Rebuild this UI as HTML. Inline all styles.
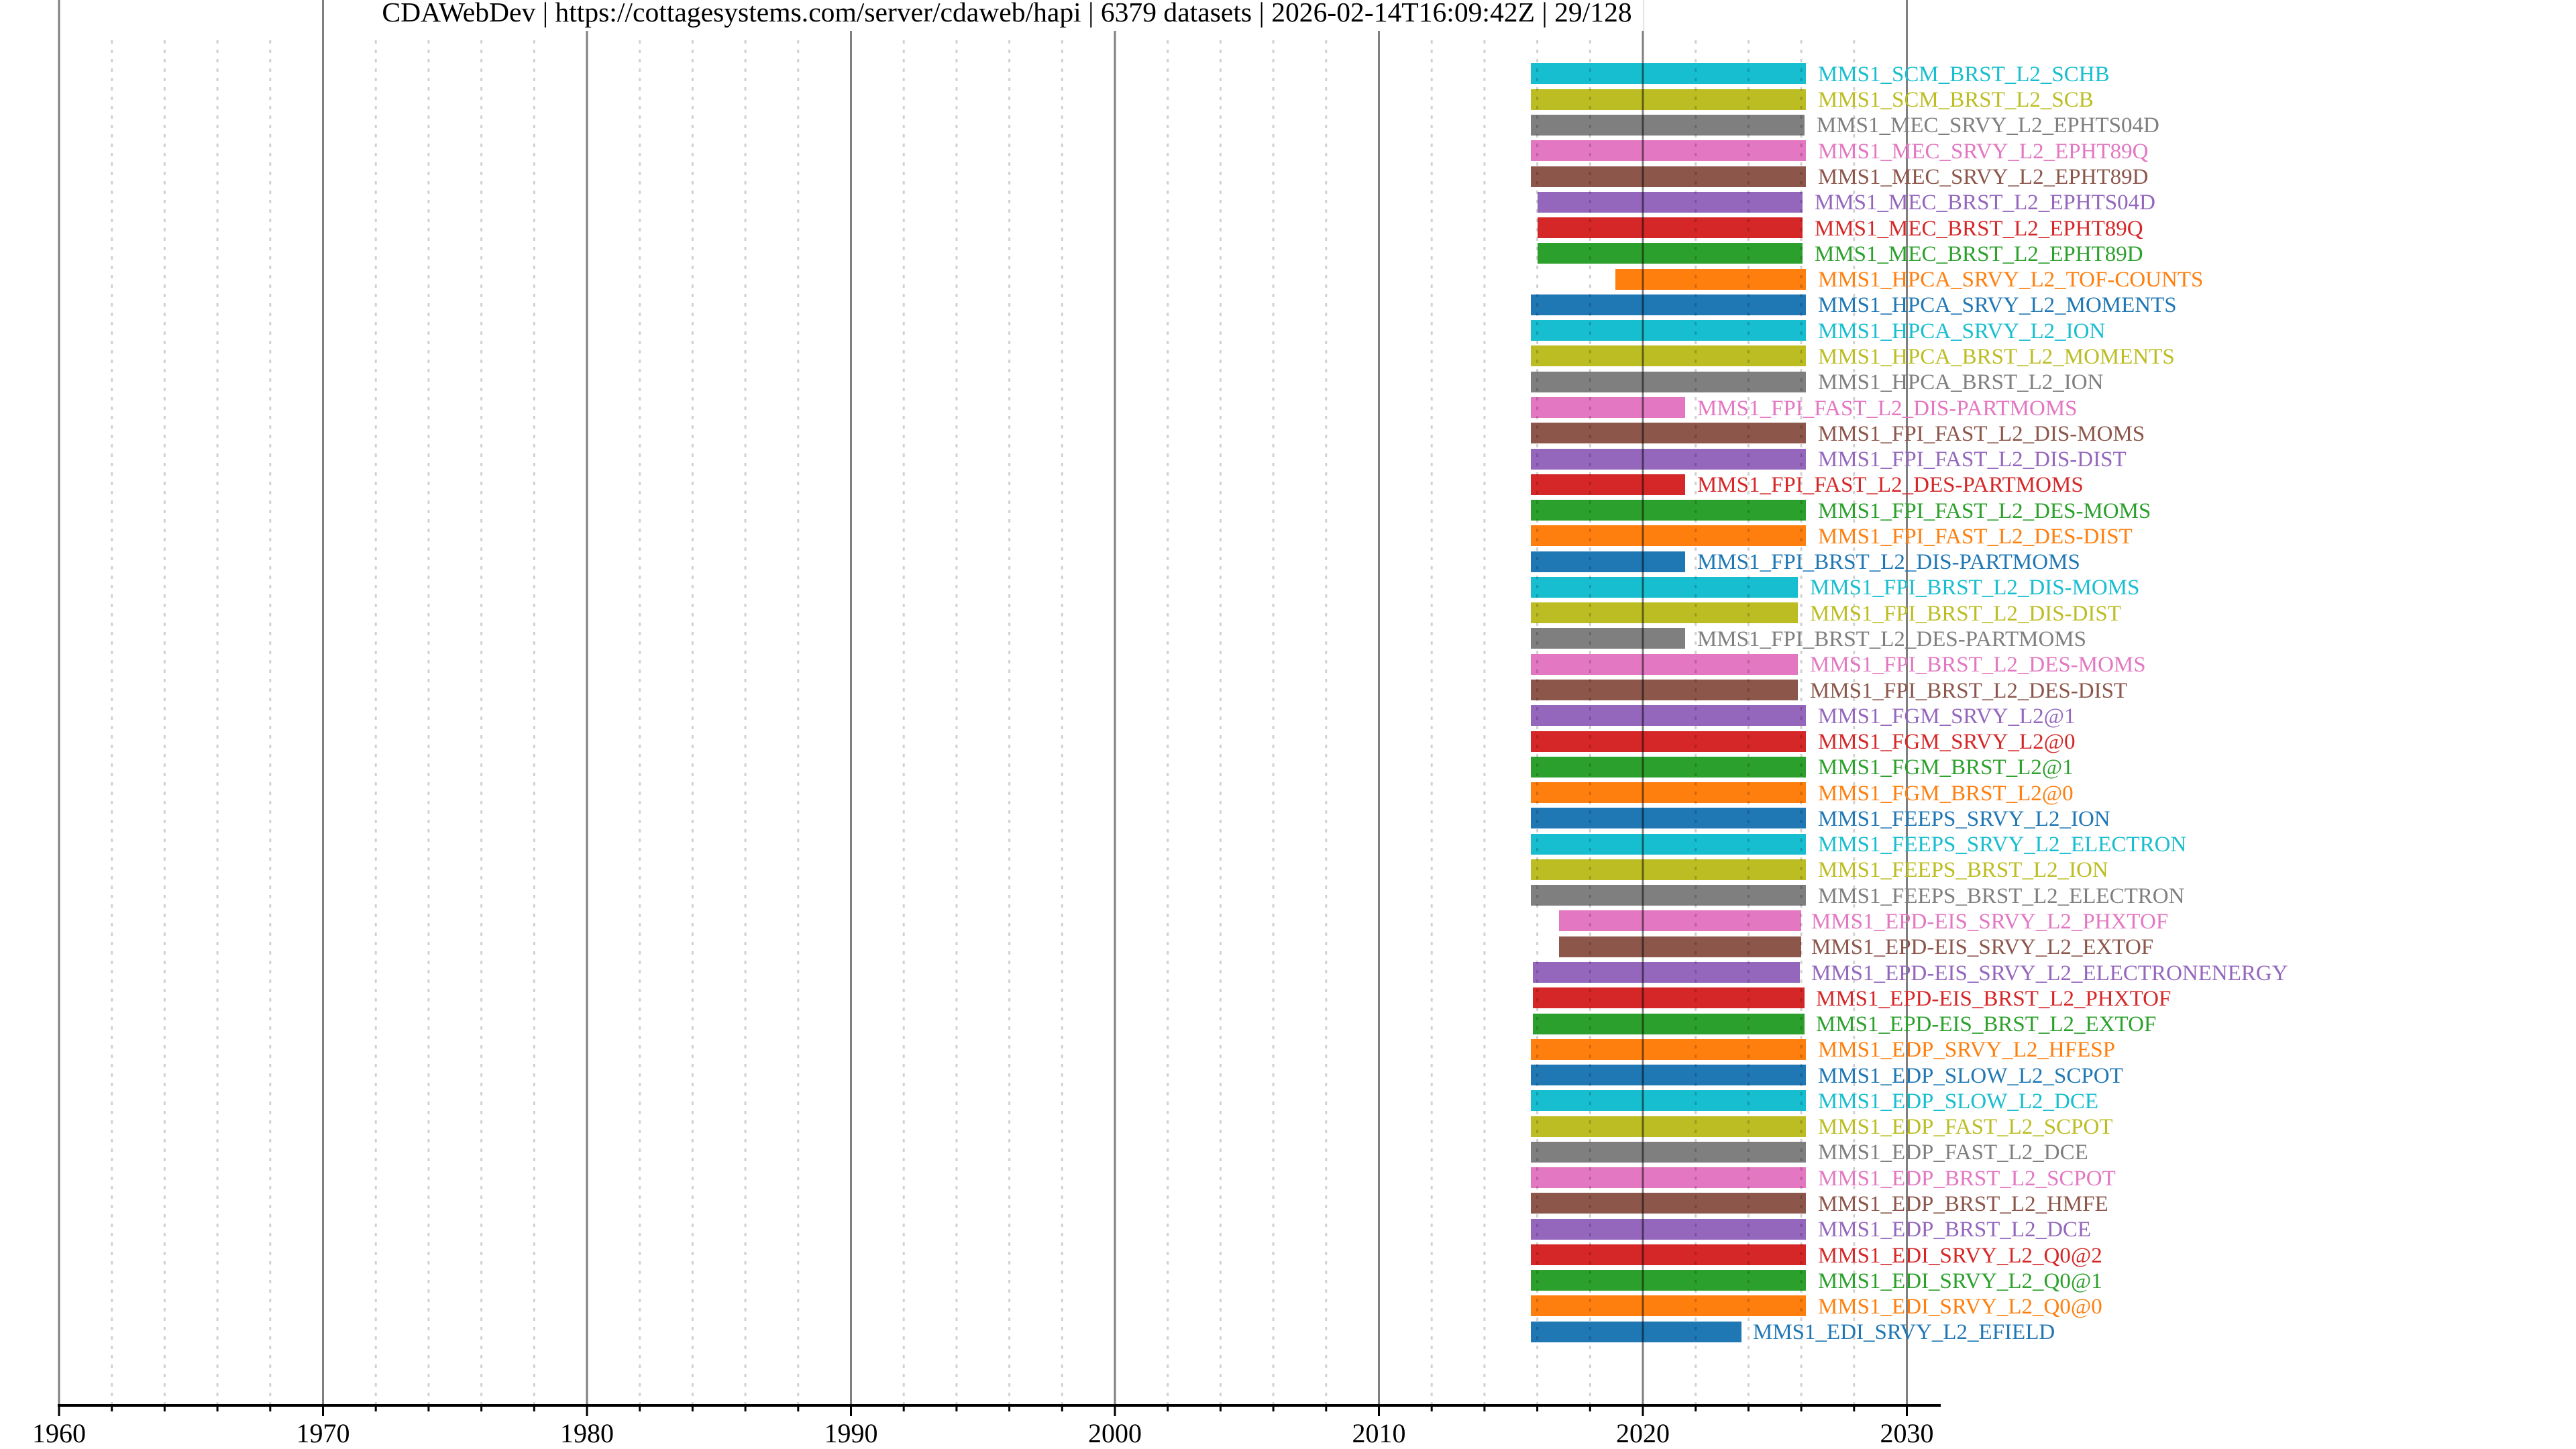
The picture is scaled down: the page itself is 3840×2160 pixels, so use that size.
<!DOCTYPE html>
<html><head><meta charset="utf-8"><style>html,body{margin:0;padding:0;background:#fff}svg{display:block}</style></head><body>
<svg xmlns="http://www.w3.org/2000/svg" width="3840" height="2160" viewBox="0 0 3840 2160" font-family="Liberation Serif, serif">
<rect width="3840" height="2160" fill="#fff"/>
<g stroke-width="0">
<rect x="2282" y="94" width="410" height="31" fill="#17becf"/>
<rect x="2282" y="133" width="410" height="31" fill="#bcbd22"/>
<rect x="2282" y="171" width="408" height="31" fill="#7f7f7f"/>
<rect x="2282" y="209" width="410" height="31" fill="#e377c2"/>
<rect x="2282" y="248" width="410" height="31" fill="#8c564b"/>
<rect x="2292" y="286" width="395" height="31" fill="#9467bd"/>
<rect x="2292" y="324" width="395" height="31" fill="#d62728"/>
<rect x="2292" y="362" width="395" height="31" fill="#2ca02c"/>
<rect x="2408" y="401" width="284" height="31" fill="#ff7f0e"/>
<rect x="2282" y="439" width="410" height="31" fill="#1f77b4"/>
<rect x="2282" y="477" width="410" height="31" fill="#17becf"/>
<rect x="2282" y="515" width="410" height="31" fill="#bcbd22"/>
<rect x="2282" y="554" width="410" height="31" fill="#7f7f7f"/>
<rect x="2282" y="592" width="230" height="31" fill="#e377c2"/>
<rect x="2282" y="630" width="410" height="31" fill="#8c564b"/>
<rect x="2282" y="669" width="410" height="31" fill="#9467bd"/>
<rect x="2282" y="707" width="230" height="31" fill="#d62728"/>
<rect x="2282" y="745" width="410" height="31" fill="#2ca02c"/>
<rect x="2282" y="783" width="410" height="31" fill="#ff7f0e"/>
<rect x="2282" y="822" width="230" height="31" fill="#1f77b4"/>
<rect x="2282" y="860" width="398" height="31" fill="#17becf"/>
<rect x="2282" y="898" width="398" height="31" fill="#bcbd22"/>
<rect x="2282" y="936" width="230" height="31" fill="#7f7f7f"/>
<rect x="2282" y="975" width="398" height="31" fill="#e377c2"/>
<rect x="2282" y="1013" width="398" height="31" fill="#8c564b"/>
<rect x="2282" y="1051" width="410" height="31" fill="#9467bd"/>
<rect x="2282" y="1090" width="410" height="31" fill="#d62728"/>
<rect x="2282" y="1128" width="410" height="31" fill="#2ca02c"/>
<rect x="2282" y="1166" width="410" height="31" fill="#ff7f0e"/>
<rect x="2282" y="1204" width="410" height="31" fill="#1f77b4"/>
<rect x="2282" y="1243" width="410" height="31" fill="#17becf"/>
<rect x="2282" y="1281" width="410" height="31" fill="#bcbd22"/>
<rect x="2282" y="1319" width="410" height="31" fill="#7f7f7f"/>
<rect x="2324" y="1357" width="361" height="31" fill="#e377c2"/>
<rect x="2324" y="1396" width="361" height="31" fill="#8c564b"/>
<rect x="2285" y="1434" width="398" height="31" fill="#9467bd"/>
<rect x="2285" y="1472" width="405" height="31" fill="#d62728"/>
<rect x="2285" y="1511" width="405" height="31" fill="#2ca02c"/>
<rect x="2282" y="1549" width="410" height="31" fill="#ff7f0e"/>
<rect x="2282" y="1587" width="410" height="31" fill="#1f77b4"/>
<rect x="2282" y="1625" width="410" height="31" fill="#17becf"/>
<rect x="2282" y="1664" width="410" height="31" fill="#bcbd22"/>
<rect x="2282" y="1702" width="410" height="31" fill="#7f7f7f"/>
<rect x="2282" y="1740" width="410" height="31" fill="#e377c2"/>
<rect x="2282" y="1778" width="410" height="31" fill="#8c564b"/>
<rect x="2282" y="1817" width="410" height="31" fill="#9467bd"/>
<rect x="2282" y="1855" width="410" height="31" fill="#d62728"/>
<rect x="2282" y="1893" width="410" height="31" fill="#2ca02c"/>
<rect x="2282" y="1931" width="410" height="31" fill="#ff7f0e"/>
<rect x="2282" y="1970" width="314" height="31" fill="#1f77b4"/>
</g>
<g stroke="#000" stroke-opacity="0.18" stroke-width="3" stroke-dasharray="5,9">
<line x1="166.7" y1="60" x2="166.7" y2="2095"/><line x1="245.4" y1="60" x2="245.4" y2="2095"/><line x1="324.1" y1="60" x2="324.1" y2="2095"/><line x1="402.8" y1="60" x2="402.8" y2="2095"/>
<line x1="560.2" y1="60" x2="560.2" y2="2095"/><line x1="638.9" y1="60" x2="638.9" y2="2095"/><line x1="717.6" y1="60" x2="717.6" y2="2095"/><line x1="796.3" y1="60" x2="796.3" y2="2095"/>
<line x1="953.7" y1="60" x2="953.7" y2="2095"/><line x1="1032.4" y1="60" x2="1032.4" y2="2095"/><line x1="1111.1" y1="60" x2="1111.1" y2="2095"/><line x1="1189.8" y1="60" x2="1189.8" y2="2095"/>
<line x1="1347.2" y1="60" x2="1347.2" y2="2095"/><line x1="1425.9" y1="60" x2="1425.9" y2="2095"/><line x1="1504.6" y1="60" x2="1504.6" y2="2095"/><line x1="1583.3" y1="60" x2="1583.3" y2="2095"/>
<line x1="1740.7" y1="60" x2="1740.7" y2="2095"/><line x1="1819.4" y1="60" x2="1819.4" y2="2095"/><line x1="1898.1" y1="60" x2="1898.1" y2="2095"/><line x1="1976.8" y1="60" x2="1976.8" y2="2095"/>
<line x1="2134.2" y1="60" x2="2134.2" y2="2095"/><line x1="2212.9" y1="60" x2="2212.9" y2="2095"/><line x1="2291.6" y1="60" x2="2291.6" y2="2095"/><line x1="2370.3" y1="60" x2="2370.3" y2="2095"/>
<line x1="2527.7" y1="60" x2="2527.7" y2="2095"/><line x1="2606.4" y1="60" x2="2606.4" y2="2095"/><line x1="2685.1" y1="60" x2="2685.1" y2="2095"/><line x1="2763.8" y1="60" x2="2763.8" y2="2095"/>
</g>
<g stroke="#000" stroke-opacity="0.5" stroke-width="3">
<line x1="88" y1="0" x2="88" y2="2095"/><line x1="481.5" y1="0" x2="481.5" y2="2095"/><line x1="875" y1="0" x2="875" y2="2095"/><line x1="1268.5" y1="0" x2="1268.5" y2="2095"/><line x1="1662" y1="0" x2="1662" y2="2095"/><line x1="2055.5" y1="0" x2="2055.5" y2="2095"/><line x1="2449" y1="0" x2="2449" y2="2095"/><line x1="2842.5" y1="0" x2="2842.5" y2="2095"/>
</g>
<rect x="550" y="0" width="1900" height="46" fill="#fff"/>
<text x="1501" y="32" font-size="41.6" text-anchor="middle" fill="#000">CDAWebDev | https://cottagesystems.com/server/cdaweb/hapi | 6379 datasets | 2026-02-14T16:09:42Z | 29/128</text>
<g font-size="33">
<text x="2710" y="121" fill="#17becf">MMS1_SCM_BRST_L2_SCHB</text>
<text x="2710" y="159" fill="#bcbd22">MMS1_SCM_BRST_L2_SCB</text>
<text x="2708" y="197" fill="#7f7f7f">MMS1_MEC_SRVY_L2_EPHTS04D</text>
<text x="2710" y="236" fill="#e377c2">MMS1_MEC_SRVY_L2_EPHT89Q</text>
<text x="2710" y="274" fill="#8c564b">MMS1_MEC_SRVY_L2_EPHT89D</text>
<text x="2705" y="312" fill="#9467bd">MMS1_MEC_BRST_L2_EPHTS04D</text>
<text x="2705" y="351" fill="#d62728">MMS1_MEC_BRST_L2_EPHT89Q</text>
<text x="2705" y="389" fill="#2ca02c">MMS1_MEC_BRST_L2_EPHT89D</text>
<text x="2710" y="427" fill="#ff7f0e">MMS1_HPCA_SRVY_L2_TOF-COUNTS</text>
<text x="2710" y="465" fill="#1f77b4">MMS1_HPCA_SRVY_L2_MOMENTS</text>
<text x="2710" y="504" fill="#17becf">MMS1_HPCA_SRVY_L2_ION</text>
<text x="2710" y="542" fill="#bcbd22">MMS1_HPCA_BRST_L2_MOMENTS</text>
<text x="2710" y="580" fill="#7f7f7f">MMS1_HPCA_BRST_L2_ION</text>
<text x="2530" y="619" fill="#e377c2">MMS1_FPI_FAST_L2_DIS-PARTMOMS</text>
<text x="2710" y="657" fill="#8c564b">MMS1_FPI_FAST_L2_DIS-MOMS</text>
<text x="2710" y="695" fill="#9467bd">MMS1_FPI_FAST_L2_DIS-DIST</text>
<text x="2530" y="733" fill="#d62728">MMS1_FPI_FAST_L2_DES-PARTMOMS</text>
<text x="2710" y="772" fill="#2ca02c">MMS1_FPI_FAST_L2_DES-MOMS</text>
<text x="2710" y="810" fill="#ff7f0e">MMS1_FPI_FAST_L2_DES-DIST</text>
<text x="2530" y="848" fill="#1f77b4">MMS1_FPI_BRST_L2_DIS-PARTMOMS</text>
<text x="2698" y="886" fill="#17becf">MMS1_FPI_BRST_L2_DIS-MOMS</text>
<text x="2698" y="925" fill="#bcbd22">MMS1_FPI_BRST_L2_DIS-DIST</text>
<text x="2530" y="963" fill="#7f7f7f">MMS1_FPI_BRST_L2_DES-PARTMOMS</text>
<text x="2698" y="1001" fill="#e377c2">MMS1_FPI_BRST_L2_DES-MOMS</text>
<text x="2698" y="1040" fill="#8c564b">MMS1_FPI_BRST_L2_DES-DIST</text>
<text x="2710" y="1078" fill="#9467bd">MMS1_FGM_SRVY_L2@1</text>
<text x="2710" y="1116" fill="#d62728">MMS1_FGM_SRVY_L2@0</text>
<text x="2710" y="1154" fill="#2ca02c">MMS1_FGM_BRST_L2@1</text>
<text x="2710" y="1193" fill="#ff7f0e">MMS1_FGM_BRST_L2@0</text>
<text x="2710" y="1231" fill="#1f77b4">MMS1_FEEPS_SRVY_L2_ION</text>
<text x="2710" y="1269" fill="#17becf">MMS1_FEEPS_SRVY_L2_ELECTRON</text>
<text x="2710" y="1307" fill="#bcbd22">MMS1_FEEPS_BRST_L2_ION</text>
<text x="2710" y="1346" fill="#7f7f7f">MMS1_FEEPS_BRST_L2_ELECTRON</text>
<text x="2700" y="1384" fill="#e377c2">MMS1_EPD-EIS_SRVY_L2_PHXTOF</text>
<text x="2700" y="1422" fill="#8c564b">MMS1_EPD-EIS_SRVY_L2_EXTOF</text>
<text x="2700" y="1461" fill="#9467bd">MMS1_EPD-EIS_SRVY_L2_ELECTRONENERGY</text>
<text x="2707" y="1499" fill="#d62728">MMS1_EPD-EIS_BRST_L2_PHXTOF</text>
<text x="2707" y="1537" fill="#2ca02c">MMS1_EPD-EIS_BRST_L2_EXTOF</text>
<text x="2710" y="1575" fill="#ff7f0e">MMS1_EDP_SRVY_L2_HFESP</text>
<text x="2710" y="1614" fill="#1f77b4">MMS1_EDP_SLOW_L2_SCPOT</text>
<text x="2710" y="1652" fill="#17becf">MMS1_EDP_SLOW_L2_DCE</text>
<text x="2710" y="1690" fill="#bcbd22">MMS1_EDP_FAST_L2_SCPOT</text>
<text x="2710" y="1728" fill="#7f7f7f">MMS1_EDP_FAST_L2_DCE</text>
<text x="2710" y="1767" fill="#e377c2">MMS1_EDP_BRST_L2_SCPOT</text>
<text x="2710" y="1805" fill="#8c564b">MMS1_EDP_BRST_L2_HMFE</text>
<text x="2710" y="1843" fill="#9467bd">MMS1_EDP_BRST_L2_DCE</text>
<text x="2710" y="1882" fill="#d62728">MMS1_EDI_SRVY_L2_Q0@2</text>
<text x="2710" y="1920" fill="#2ca02c">MMS1_EDI_SRVY_L2_Q0@1</text>
<text x="2710" y="1958" fill="#ff7f0e">MMS1_EDI_SRVY_L2_Q0@0</text>
<text x="2613" y="1996" fill="#1f77b4">MMS1_EDI_SRVY_L2_EFIELD</text>
</g>
<line x1="86" y1="2095" x2="2893" y2="2095" stroke="#000" stroke-width="4"/>
<g stroke="#000" stroke-width="3">
<line x1="88" y1="2095" x2="88" y2="2111"/><line x1="481.5" y1="2095" x2="481.5" y2="2111"/><line x1="875" y1="2095" x2="875" y2="2111"/><line x1="1268.5" y1="2095" x2="1268.5" y2="2111"/><line x1="1662" y1="2095" x2="1662" y2="2111"/><line x1="2055.5" y1="2095" x2="2055.5" y2="2111"/><line x1="2449" y1="2095" x2="2449" y2="2111"/><line x1="2842.5" y1="2095" x2="2842.5" y2="2111"/>
<line x1="166.7" y1="2095" x2="166.7" y2="2104"/><line x1="245.4" y1="2095" x2="245.4" y2="2104"/><line x1="324.1" y1="2095" x2="324.1" y2="2104"/><line x1="402.8" y1="2095" x2="402.8" y2="2104"/>
<line x1="560.2" y1="2095" x2="560.2" y2="2104"/><line x1="638.9" y1="2095" x2="638.9" y2="2104"/><line x1="717.6" y1="2095" x2="717.6" y2="2104"/><line x1="796.3" y1="2095" x2="796.3" y2="2104"/>
<line x1="953.7" y1="2095" x2="953.7" y2="2104"/><line x1="1032.4" y1="2095" x2="1032.4" y2="2104"/><line x1="1111.1" y1="2095" x2="1111.1" y2="2104"/><line x1="1189.8" y1="2095" x2="1189.8" y2="2104"/>
<line x1="1347.2" y1="2095" x2="1347.2" y2="2104"/><line x1="1425.9" y1="2095" x2="1425.9" y2="2104"/><line x1="1504.6" y1="2095" x2="1504.6" y2="2104"/><line x1="1583.3" y1="2095" x2="1583.3" y2="2104"/>
<line x1="1740.7" y1="2095" x2="1740.7" y2="2104"/><line x1="1819.4" y1="2095" x2="1819.4" y2="2104"/><line x1="1898.1" y1="2095" x2="1898.1" y2="2104"/><line x1="1976.8" y1="2095" x2="1976.8" y2="2104"/>
<line x1="2134.2" y1="2095" x2="2134.2" y2="2104"/><line x1="2212.9" y1="2095" x2="2212.9" y2="2104"/><line x1="2291.6" y1="2095" x2="2291.6" y2="2104"/><line x1="2370.3" y1="2095" x2="2370.3" y2="2104"/>
<line x1="2527.7" y1="2095" x2="2527.7" y2="2104"/><line x1="2606.4" y1="2095" x2="2606.4" y2="2104"/><line x1="2685.1" y1="2095" x2="2685.1" y2="2104"/><line x1="2763.8" y1="2095" x2="2763.8" y2="2104"/>
</g>
<g font-size="40" text-anchor="middle" fill="#000">
<text x="88" y="2150">1960</text><text x="481.5" y="2150">1970</text><text x="875" y="2150">1980</text><text x="1268.5" y="2150">1990</text><text x="1662" y="2150">2000</text><text x="2055.5" y="2150">2010</text><text x="2449" y="2150">2020</text><text x="2842.5" y="2150">2030</text>
</g>
</svg>
</body></html>
